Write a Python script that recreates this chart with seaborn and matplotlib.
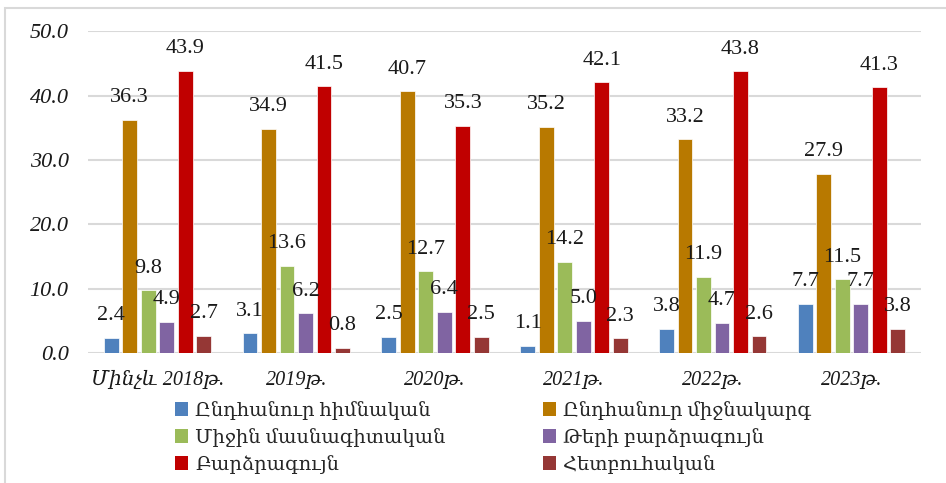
import pandas as pd
import matplotlib
matplotlib.use('Agg')
import matplotlib.pyplot as plt
import seaborn as sns
from matplotlib.patches import Patch, Rectangle

# Data
categories = ['Մինչև 2018թ.', '2019թ.', '2020թ.', '2021թ.', '2022թ.', '2023թ.']
series = ['Ընդհանուր հիմնական', 'Ընդհանուր միջնակարգ', 'Միջին մասնագիտական',
          'Թերի բարձրագույն', 'Բարձրագույն', 'Հետբուհական']
basic = [2.4, 3.1, 2.5, 1.1, 3.8, 7.7]
secondary = [36.3, 34.9, 40.7, 35.2, 33.2, 27.9]
vocational = [9.8, 13.6, 12.7, 14.2, 11.9, 11.5]
incomplete_higher = [4.9, 6.2, 6.4, 5.0, 4.7, 7.7]
higher = [43.9, 41.5, 35.3, 42.1, 43.8, 41.3]
postgrad = [2.7, 0.8, 2.5, 2.3, 2.6, 3.8]
colors = ['#4F81BD', '#B87900', '#9BBB59', '#8064A2', '#C00000', '#953735']

values = [basic, secondary, vocational, incomplete_higher, higher, postgrad]
rows = []
for name, vals in zip(series, values):
    for cat, v in zip(categories, vals):
        rows.append({'Year': cat, 'Level': name, 'Value': v})
df = pd.DataFrame(rows)

sns.set_theme(style='white')
plt.rcParams['font.family'] = ['Liberation Serif', 'DejaVu Serif', 'DejaVu Sans']

fig = plt.figure(figsize=(9.46, 4.83), dpi=100)
ax = fig.add_axes([0.093, 0.269, 0.8806, 0.666])

sns.barplot(data=df, x='Year', y='Value', hue='Level', order=categories,
            hue_order=series, palette=colors, gap=0.2, saturation=1,
            edgecolor='white', linewidth=0.5, legend=False, ax=ax)

# Data labels above each bar
for cont in ax.containers:
    ax.bar_label(cont, fmt='%.1f', padding=9, fontsize=16, color='#1a1a1a')

ax.set_ylim(0, 50)
ax.set_yticks([0, 10, 20, 30, 40, 50])
ax.set_yticklabels(['%.1f' % t for t in [0, 10, 20, 30, 40, 50]],
                   fontsize=16, fontstyle='italic', color='#1a1a1a')
ax.set_xticklabels(categories, fontsize=14.5, fontstyle='italic', color='#1a1a1a')
ax.tick_params(axis='y', length=0, pad=14)
ax.tick_params(axis='x', length=0, pad=13)
ax.set_xlabel('')
ax.set_ylabel('')
ax.yaxis.grid(True, color='#D9D9D9', linewidth=1.5)
ax.set_axisbelow(True)
for s in ax.spines.values():
    s.set_visible(False)

# Legend in two columns at the bottom
handles = [Patch(facecolor=c, edgecolor='none') for c in colors]
order = [0, 2, 4, 1, 3, 5]
fig.legend([handles[i] for i in order], [series[i] for i in order],
           ncol=2, loc='upper left', bbox_to_anchor=(0.185, 0.17),
           frameon=False, fontsize=14, handlelength=0.68, handleheight=0.68,
           handletextpad=0.35, columnspacing=5.0, labelspacing=0.42,
           borderaxespad=0, borderpad=0)

# Light outer frame (left and top edges visible)
fig.patches.append(Rectangle((0.0055, -0.1), 1.2, 0.1 + 0.983, transform=fig.transFigure,
                             fill=False, edgecolor='#D9D9D9', linewidth=1.5))

fig.savefig('out.png', dpi=100)
